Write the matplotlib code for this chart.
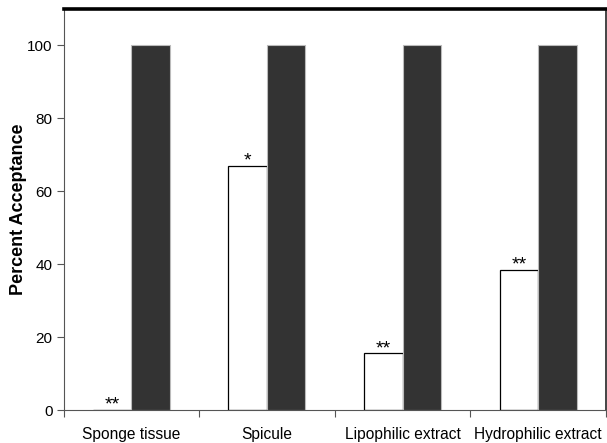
import numpy as np
import matplotlib.pyplot as plt

plt.rcParams['font.family'] = ['Liberation Sans', 'DejaVu Sans']

# data
categories = ['Sponge tissue', 'Spicule', 'Lipophilic extract', 'Hydrophilic extract']
treatment = [0, 67, 15.5, 38.5]
control = [100, 100, 100, 100]
stars = ['**', '*', '**', '**']

x = np.arange(len(categories))
w = 0.284

fig = plt.figure(figsize=(6.07, 4.43), dpi=100)
ax = fig.add_axes([63.5 / 607, 1 - 410 / 443, (606 - 63.5) / 607, (410 - 9) / 443])

ax.bar(x - w / 2, treatment, w, color='white', edgecolor='black', linewidth=0.9)
ax.bar(x + w / 2, control, w, color='#333333', edgecolor='#bbbbbb', linewidth=0.8)

# significance marks above the treatment bars
for xi, v, s in zip(x, treatment, stars):
    ax.text(xi - w / 2, v - 1.0, s, ha='center', va='bottom', fontsize=14)

ax.set_xlim(-0.5, len(categories) - 0.5)
ax.set_ylim(0, 110)
ax.set_yticks([0, 20, 40, 60, 80, 100])
ax.tick_params(axis='y', labelsize=11, length=5, width=0.8, color='#555555', pad=3)

# category boundaries carry the ticks, labels sit in the middle
ax.set_xticks(np.arange(len(categories) + 1) - 0.5)
ax.set_xticklabels([])
ax.set_xticks(x, minor=True)
ax.set_xticklabels(categories, minor=True, fontsize=11.2)
ax.tick_params(axis='x', which='major', length=5, width=0.8, color='#555555')
ax.tick_params(axis='x', which='minor', length=0, pad=12)

ax.set_ylabel('Percent Acceptance', fontsize=13, fontweight='bold', labelpad=0)

ax.spines['top'].set_linewidth(2.6)
ax.spines['top'].set_color('black')
ax.spines['left'].set_color('#555555')
ax.spines['bottom'].set_color('#555555')
ax.spines['right'].set_color('#444444')
ax.spines['right'].set_linewidth(1.4)

fig.savefig('out.png', dpi=100)
